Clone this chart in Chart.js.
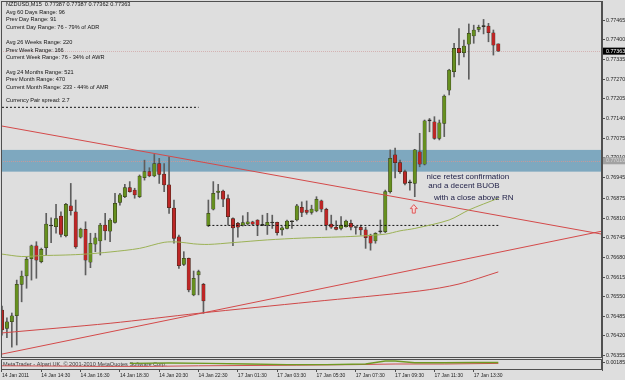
<!DOCTYPE html>
<html>
<head>
<meta charset="utf-8">
<script src="https://cdn.jsdelivr.net/npm/chart.js"></script>
<style>
html,body{margin:0;padding:0;background:#dedede;}
</style>
</head>
<body>
<canvas id="myChart" width="625" height="380"></canvas>
<script>
// NZDUSD M15 bars, index 0 = 14 Jan 2011 12:30, index 42 = 17 Jan 00:00
const opens = [0.76506,0.76445,0.76467,0.76487,0.76591,0.76619,0.76676,0.76718,0.76666,0.76712,
  0.76785,0.76782,0.76817,0.76752,0.76851,0.76831,0.76747,0.76773,0.76664,0.76724,
  0.76735,0.76787,0.76767,0.76796,0.76862,0.76881,0.76911,0.76903,0.76881,0.76944,
  0.76964,0.76950,0.76991,0.76956,0.76920,0.76843,0.76748,0.76657,0.76677,0.76556,
  0.76622,0.76591,0.76785,0.76840,0.76895,0.76900,0.76875,0.76809,0.76793,0.76787,
  0.76791,0.76798,0.76804,0.76787,0.76787,0.76795,0.76796,0.76771,0.76776,0.76798,
  0.76804,0.76846,0.76837,0.76829,0.76834,0.76867,0.76839,0.76790,0.76780,0.76776,
  0.76782,0.76793,0.76780,0.76780,0.76771,0.76754,0.76735,0.76765,0.76765,0.76898,
  0.77020,0.76994,0.76964,0.76927,0.76925,0.77030,0.76989,0.77132,0.77129,0.77074,
  0.77124,0.77234,0.77295,0.77372,0.77358,0.77386,0.77413,0.77435,0.77444,0.77446,
  0.77424,0.77387];
const highs = [0.76519,0.76480,0.76496,0.76605,0.76635,0.76682,0.76721,0.76732,0.76711,0.76826,
  0.76811,0.76856,0.76831,0.76859,0.76925,0.76870,0.76777,0.76798,0.76760,0.76760,
  0.76793,0.76826,0.76809,0.76892,0.76892,0.76922,0.76931,0.76909,0.76953,0.77002,
  0.76977,0.77021,0.77008,0.76991,0.77013,0.76870,0.76754,0.76699,0.76678,0.76635,
  0.76638,0.76594,0.76870,0.76931,0.76922,0.76903,0.76887,0.76811,0.76796,0.76818,
  0.76829,0.76800,0.76805,0.76820,0.76826,0.76820,0.76797,0.76782,0.76804,0.76801,
  0.76856,0.76864,0.76867,0.76853,0.76881,0.76870,0.76843,0.76820,0.76801,0.76815,
  0.76804,0.76804,0.76781,0.76787,0.76780,0.76757,0.76762,0.76804,0.76903,0.77036,
  0.77042,0.77002,0.76969,0.76936,0.77038,0.77091,0.77135,0.77140,0.77146,0.77135,
  0.77218,0.77303,0.77389,0.77438,0.77400,0.77453,0.77449,0.77449,0.77468,0.77455,
  0.77433,0.77387];
const lows = [0.76423,0.76414,0.76383,0.76390,0.76533,0.76578,0.76605,0.76611,0.76662,0.76688,
  0.76729,0.76760,0.76748,0.76748,0.76820,0.76710,0.76744,0.76622,0.76646,0.76699,
  0.76688,0.76738,0.76732,0.76793,0.76853,0.76878,0.76896,0.76876,0.76878,0.76936,
  0.76947,0.76947,0.76925,0.76898,0.76826,0.76727,0.76644,0.76653,0.76566,0.76553,
  0.76556,0.76495,0.76782,0.76837,0.76873,0.76848,0.76787,0.76719,0.76747,0.76784,
  0.76787,0.76787,0.76752,0.76785,0.76756,0.76776,0.76754,0.76754,0.76774,0.76776,
  0.76801,0.76815,0.76823,0.76823,0.76831,0.76831,0.76771,0.76776,0.76771,0.76771,
  0.76780,0.76771,0.76757,0.76754,0.76710,0.76704,0.76727,0.76760,0.76762,0.76893,
  0.76943,0.76958,0.76920,0.76903,0.76881,0.76980,0.76986,0.77096,0.77071,0.77069,
  0.77080,0.77218,0.77278,0.77317,0.77344,0.77270,0.77389,0.77427,0.77420,0.77394,
  0.77350,0.77362];
const closes = [0.76440,0.76467,0.76487,0.76591,0.76618,0.76674,0.76718,0.76671,0.76707,0.76790,
  0.76784,0.76809,0.76756,0.76856,0.76835,0.76715,0.76774,0.76671,0.76727,0.76745,
  0.76787,0.76768,0.76804,0.76859,0.76887,0.76911,0.76898,0.76887,0.76949,0.76964,
  0.76950,0.76991,0.76955,0.76920,0.76845,0.76743,0.76653,0.76677,0.76572,0.76611,
  0.76633,0.76536,0.76826,0.76892,0.76900,0.76873,0.76815,0.76778,0.76780,0.76795,
  0.76798,0.76790,0.76787,0.76786,0.76796,0.76794,0.76762,0.76778,0.76800,0.76799,
  0.76851,0.76829,0.76829,0.76840,0.76872,0.76840,0.76787,0.76780,0.76773,0.76787,
  0.76800,0.76780,0.76779,0.76771,0.76745,0.76727,0.76760,0.76766,0.76898,0.77008,
  0.76994,0.76964,0.76925,0.76928,0.77036,0.76989,0.77132,0.77133,0.77074,0.77126,
  0.77214,0.77300,0.77372,0.77358,0.77380,0.77422,0.77433,0.77442,0.77445,0.77424,
  0.77383,0.77363];

// moving averages (bar index / price)
const maGreenIdx = [0,4,8,13,17,22,28,33,36,39,42,47,54,61,69,73,78,81,84,91,95,101];
const maGreenVal = [0.76691,0.76683,0.76686,0.76688,0.76691,0.76698,0.76710,0.76730,0.76731,0.76725,0.76723,
  0.76729,0.76738,0.76744,0.76748,0.76751,0.76757,0.76768,0.76776,0.76804,0.76837,0.76876];
const maRedIdx = [0,22,40,63,85,93,101];
const maRedVal = [0.76430,0.76462,0.76495,0.76533,0.76569,0.76592,0.76632];

// drawn objects
const downLineIdx = [0,122.1];
const downLineVal = [0.77115,0.76757];
const upLineIdx = [0,122.1];
const upLineVal = [0.76360,0.76767];
const hLine1Idx = [0,40];
const hLine1Val = [0.77177,0.77177];
const hLine2Idx = [42,101];
const hLine2Val = [0.76786,0.76786];
const zoneTop = 0.77036;
const zoneBottom = 0.76964;
const roundLevel = 0.77000;
const bidPrice = 0.77363;

// lower indicator window
const subGreenIdx = [26,34,42,50,58,66,74,78,80,84,90,96,101];
const subGreenVal = [0.55,0.58,0.55,0.5,0.45,0.45,0.5,0.75,0.75,0.6,0.6,0.62,0.62];
const subRedIdx = [0,10,20,30,40,60,72,80,90,101];
const subRedVal = [0.35,0.33,0.3,0.3,0.35,0.4,0.45,0.5,0.5,0.55];

const yTicks = [0.76355,0.76420,0.76485,0.76550,0.76615,0.76680,0.76745,0.76810,0.76875,
  0.76945,0.77010,0.77075,0.77140,0.77205,0.77270,0.77335,0.77400,0.77465];
const xTickIdx = [0,8,16,24,32,40,48,56,64,72,80,88,96];
const xTickText = ['14 Jan 2011','14 Jan 14:30','14 Jan 16:30','14 Jan 18:30','14 Jan 20:30','14 Jan 22:30',
  '17 Jan 01:30','17 Jan 03:30','17 Jan 05:30','17 Jan 07:30','17 Jan 09:30','17 Jan 11:30','17 Jan 13:30'];

const infoLines = ['NZDUSD,M15  0.77387 0.77387 0.77362 0.77363','Avg 60 Days Range: 96','Prev Day Range: 91',
  'Current Day Range: 76 - 79% of ADR','Avg 26 Weeks Range: 220','Prev Week Range: 166',
  'Current Week Range: 76 - 34% of AWR','Avg 24 Months Range: 521','Prev Month Range: 470',
  'Current Month Range: 233 - 44% of AMR','Currency Pair spread: 2.7'];
const infoRowY = [4.5,12.2,19.8,27.5,42.5,50,57.5,72,79.5,87,100];

const noteText = ['nice retest confirmation','and a decent BUOB','with a close above RN'];
const noteIdx = [94.8,94.0,96.0];
const notePrice = [0.76946,0.76918,0.76877];
const arrowIdx = 83.8;
const arrowPrice = 0.76840;

const FONT = '"Liberation Sans", Arial, sans-serif';

function pts(idx, vals){ return idx.map((v,k)=>({x:v, y:vals[k]})); }

function bodyColor(k){
  const d = closes[k]-opens[k];
  if (Math.abs(d) < 0.000025) return '#222';
  return d > 0 ? '#66901f' : '#bd2626';
}

const decor = {
  id: 'decor',
  beforeDraw(chart){
    const c = chart.ctx;
    c.save();
    c.fillStyle = '#dedede';
    c.fillRect(0,0,chart.width,chart.height);
    c.restore();
  },
  beforeDatasetsDraw(chart){
    const c = chart.ctx, a = chart.chartArea, y = chart.scales.y;
    const t = y.getPixelForValue(zoneTop), b = y.getPixelForValue(zoneBottom);
    c.save();
    c.fillStyle = '#7ea8bf';
    c.fillRect(a.left, t, a.right-a.left, b-t);
    c.lineWidth = 1;
    c.setLineDash([1,1]);
    let yy = Math.round(y.getPixelForValue(roundLevel))+0.5;
    c.strokeStyle = '#c49a9a';
    c.beginPath(); c.moveTo(a.left,yy); c.lineTo(a.right,yy); c.stroke();
    yy = Math.round(y.getPixelForValue(bidPrice))+0.5;
    c.strokeStyle = '#d4b2b2';
    c.beginPath(); c.moveTo(a.left,yy); c.lineTo(a.right,yy); c.stroke();
    c.restore();

    // watermark in the indicator window
    const y2 = chart.scales.y2;
    c.save();
    c.font = '5.6px ' + FONT;
    c.fillStyle = '#3a3a3a';
    c.textBaseline = 'middle';
    c.fillText('MetaTrader - Alpari UK, \u00a9 2001-2010 MetaQuotes Software Corp.', a.left+2, (y2.top+y2.bottom)/2+0.5);
    c.restore();
  },
  afterDraw(chart){
    const c = chart.ctx, a = chart.chartArea, x = chart.scales.x, y = chart.scales.y, y2 = chart.scales.y2;
    c.save();
    c.strokeStyle = '#505050';
    c.lineWidth = 1;
    c.strokeRect(a.left+0.5, y.top+0.5, a.right-a.left-1, y.bottom-y.top-1);
    c.strokeRect(a.left+0.5, y2.top+1.5, a.right-a.left-1, y2.bottom-y2.top-2);

    c.font = '5.6px ' + FONT;
    c.fillStyle = '#141414';
    c.textBaseline = 'middle';
    infoLines.forEach((s,k)=>c.fillText(s, a.left+5, infoRowY[k]));

    c.font = '8px ' + FONT;
    c.fillStyle = '#23234a';
    c.textAlign = 'center';
    noteText.forEach((s,k)=>c.fillText(s, x.getPixelForValue(noteIdx[k]), y.getPixelForValue(notePrice[k])));

    // small up arrow
    const ax = x.getPixelForValue(arrowIdx), ay = y.getPixelForValue(arrowPrice);
    c.beginPath();
    c.moveTo(ax, ay-4.5); c.lineTo(ax+3.5, ay-0.5); c.lineTo(ax+1.5, ay-0.5); c.lineTo(ax+1.5, ay+4);
    c.lineTo(ax-1.5, ay+4); c.lineTo(ax-1.5, ay-0.5); c.lineTo(ax-3.5, ay-0.5); c.closePath();
    c.fillStyle = '#f4d8d8'; c.fill();
    c.strokeStyle = '#e05a5a'; c.stroke();

    // price boxes on the axis
    c.font = '5.3px ' + FONT;
    c.textAlign = 'left';
    let by = y.getPixelForValue(bidPrice);
    c.fillStyle = '#000';
    c.fillRect(a.right+1, by-3.5, 30, 7);
    c.fillStyle = '#fff';
    c.fillText(bidPrice.toFixed(5), a.right+4, by);
    by = y.getPixelForValue(roundLevel);
    c.fillStyle = '#a2a2a2';
    c.fillRect(a.right+1, by-3.5, 30, 7);
    c.fillStyle = '#d8d8d8';
    c.fillText('0.77010', a.right+4, by);
    c.restore();
  }
};

const ctx = document.getElementById('myChart').getContext('2d');
const chart = new Chart(ctx, {
  data: {
    datasets: [
      { type:'bar', label:'body', order:1, grouped:false, barThickness:3.4, minBarLength:1,
        data: opens.map((o,k)=>({x:k, y:[o, closes[k]]})),
        backgroundColor: c=>bodyColor(c.dataIndex), borderWidth:0.5, borderColor:'#2b2b1c', borderSkipped:false },
      { type:'bar', label:'wick', order:2, grouped:false, barThickness:1,
        data: lows.map((l,k)=>({x:k, y:[l, highs[k]]})),
        backgroundColor:'#5e5e5e', borderWidth:0 },
      { type:'line', label:'ma green', order:0, data: pts(maGreenIdx, maGreenVal),
        borderColor:'#9cb256', borderWidth:1, pointRadius:0, tension:0.3 },
      { type:'line', label:'ma red', order:0, data: pts(maRedIdx, maRedVal),
        borderColor:'#d04848', borderWidth:1, pointRadius:0, tension:0.3 },
      { type:'line', label:'down line', order:0, data: pts(downLineIdx, downLineVal),
        borderColor:'#d44a4a', borderWidth:1, pointRadius:0 },
      { type:'line', label:'up line', order:0, data: pts(upLineIdx, upLineVal),
        borderColor:'#d44a4a', borderWidth:1, pointRadius:0 },
      { type:'line', label:'level 1', order:0, data: pts(hLine1Idx, hLine1Val),
        borderColor:'#111', borderWidth:1, borderDash:[2,2], pointRadius:0 },
      { type:'line', label:'level 2', order:0, data: pts(hLine2Idx, hLine2Val),
        borderColor:'#111', borderWidth:1, borderDash:[2,2], pointRadius:0 },
      { type:'line', label:'sub green', order:0, yAxisID:'y2', data: pts(subGreenIdx, subGreenVal),
        borderColor:'#6f9a24', borderWidth:1.4, pointRadius:0 },
      { type:'line', label:'sub red', order:0, yAxisID:'y2', data: pts(subRedIdx, subRedVal),
        borderColor:'#d05050', borderWidth:1, pointRadius:0 }
    ]
  },
  options: {
    responsive:false,
    animation:false,
    devicePixelRatio:1,
    layout:{ padding:{ left:1, top:1, right:0, bottom:0 } },
    plugins:{ legend:{display:false}, tooltip:{enabled:false} },
    scales:{
      x:{
        type:'linear', position:'bottom', min:-0.2, max:122.1, offset:false,
        afterBuildTicks: s=>{ s.ticks = xTickIdx.map(v=>({value:v})); },
        afterFit: s=>{ s.height = 10; s.paddingLeft = 0; s.paddingRight = 0; },
        ticks:{ autoSkip:false, maxRotation:0, align:'start', padding:1, color:'#1e1e1e',
          font:{ size:5, family:FONT }, callback:(v,i)=>xTickText[i] },
        grid:{ drawOnChartArea:false, offset:false, tickLength:2, color:'#505050' },
        border:{ display:false }
      },
      y:{
        type:'linear', position:'right', stack:'panes', stackWeight:357,
        min:0.76347, max:0.77529,
        afterBuildTicks: s=>{ s.ticks = yTicks.map(v=>({value:v})); },
        afterFit: s=>{ s.width = 23; s.paddingTop = 0; s.paddingBottom = 0; },
        ticks:{ padding:1, color:'#1e1e1e', font:{ size:5.3, family:FONT }, callback:v=>v.toFixed(5) },
        grid:{ drawOnChartArea:false, tickLength:3, color:'#505050' },
        border:{ display:true, color:'#505050' }
      },
      y2:{
        type:'linear', position:'right', stack:'panes', stackWeight:12,
        min:0, max:1,
        afterBuildTicks: s=>{ s.ticks = [{value:0.6}]; },
        afterFit: s=>{ s.width = 23; s.paddingTop = 0; s.paddingBottom = 0; },
        ticks:{ padding:1, color:'#1e1e1e', font:{ size:5.3, family:FONT }, callback:()=> '0.00185' },
        grid:{ drawOnChartArea:false, tickLength:3, color:'#505050' },
        border:{ display:true, color:'#505050' }
      }
    }
  },
  plugins:[decor]
});
</script>
</body>
</html>
